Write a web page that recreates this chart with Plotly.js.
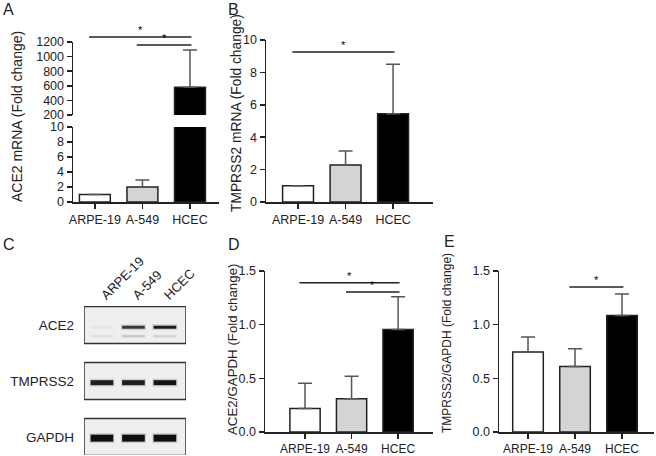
<!DOCTYPE html>
<html><head><meta charset="utf-8">
<script src="https://cdn.plot.ly/plotly-3.0.1.min.js"></script>
<style>html,body{margin:0;padding:0;background:#fff}#chart{width:656px;height:456px}</style>
</head><body><div id="chart"></div>
<script>
// ---------- data ----------
const groups = ['ARPE-19', 'A-549', 'HCEC'];
const barColors = ['#ffffff', '#d4d4d4', '#000000'];
const ace2Mrna = [1, 2, 580];
const ace2MrnaErr = [0, 0.95, 510];
const tmprss2Mrna = [1, 2.28, 5.45];
const tmprss2MrnaErr = [0, 0.87, 3.05];
const ace2Gapdh = [0.22, 0.31, 0.955];
const ace2GapdhErr = [0.235, 0.21, 0.305];
const tmprss2Gapdh = [0.745, 0.61, 1.085];
const tmprss2GapdhErr = [0.14, 0.165, 0.2];
const blotLanes = ['ARPE-19', 'A-549', 'HCEC'];
const blotRows = ['GAPDH', 'TMPRSS2', 'ACE2'];
const ace2Band = [0.03, 0.8, 0.95];
const ace2LowerBand = [0.06, 0.16, 0.12];
const tmprss2Band = [0.92, 0.92, 0.98];
const gapdhBand = [1, 1, 1];
// significance brackets: [from group, to group, height]
const sigA = [[0, 2, 1268], [1, 2, 1160]];
const sigB = [[0, 2, 9.26]];
const sigD = [[0, 2, 1.39], [1, 2, 1.305]];
const sigE = [[1, 2, 1.35]];

// ---------- layout helpers ----------
const W = 656, H = 456;
const px = v => v / W, py = v => 1 - v / H;
const FONT = 'Arial, "Liberation Sans", sans-serif';
const INK = '#222';

function xAx(d0, d1, r0, r1, anchor, size) {
  return {domain: [px(d0), px(d1)], range: [r0, r1], type: 'category', categoryarray: groups,
    anchor: anchor, showline: true, linecolor: INK, linewidth: 1.5, ticks: 'outside', ticklen: 5,
    tickwidth: 1.5, tickcolor: INK, showgrid: false, zeroline: false, fixedrange: true,
    tickfont: {family: FONT, size: size, color: INK}};
}
function yAx(top, bottom, r0, r1, anchor, tickvals, ticktext, size) {
  return {domain: [py(bottom), py(top)], range: [r0, r1], anchor: anchor, showline: true, linecolor: INK,
    linewidth: 1.5, ticks: 'outside', ticklen: 5, tickwidth: 1.5, tickcolor: INK, showgrid: false,
    zeroline: false, tickvals: tickvals, ticktext: ticktext, fixedrange: true,
    tickfont: {family: FONT, size: size, color: INK}};
}
function bars(vals, errs, xa, ya) {
  return {type: 'bar', x: groups, y: vals, xaxis: xa, yaxis: ya, width: 0.65,
    marker: {color: barColors, line: {color: INK, width: 1.5}},
    error_y: {type: 'data', array: errs, arrayminus: errs.map(() => 0), symmetric: false,
      color: '#555', thickness: 1.5, width: 7},
    hoverinfo: 'skip', showlegend: false};
}

const traces = [
  bars(ace2Mrna, ace2MrnaErr, 'x', 'y'),
  bars(ace2Mrna, ace2MrnaErr, 'x2', 'y2'),
  bars(tmprss2Mrna, tmprss2MrnaErr, 'x3', 'y3'),
  bars(ace2Gapdh, ace2GapdhErr, 'x4', 'y4'),
  bars(tmprss2Gapdh, tmprss2GapdhErr, 'x5', 'y5')
];

// western blot bands
function bandTraces(intens, row, offset, width) {
  const out = [];
  intens.forEach((a, i) => {
    const lane = i + 1;
    out.push({type: 'scatter', mode: 'lines', x: [lane - 0.4, lane + 0.4], y: [row + offset, row + offset],
      xaxis: 'x6', yaxis: 'y6', line: {color: `rgba(20,20,20,${(a * 0.14).toFixed(3)})`, width: width + 3},
      hoverinfo: 'skip', showlegend: false});
    out.push({type: 'scatter', mode: 'lines', x: [lane - 0.36, lane + 0.36], y: [row + offset, row + offset],
      xaxis: 'x6', yaxis: 'y6', line: {color: `rgba(15,15,15,${a.toFixed(3)})`, width: width},
      hoverinfo: 'skip', showlegend: false});
  });
  return out;
}
traces.push(...bandTraces(ace2Band, 2, -0.04, 3));
traces.push(...bandTraces(ace2LowerBand, 2, -0.2, 2));
traces.push(...bandTraces(tmprss2Band, 1, -0.03, 5));
traces.push(...bandTraces(gapdhBand, 0, -0.02, 7));

const shapes = [];
const annotations = [];

// blot frames
blotRows.forEach((r, i) => {
  shapes.push({type: 'rect', xref: 'x6', yref: 'y6', x0: 0.43, x1: 3.67, y0: i - 0.33, y1: i + 0.33,
    line: {color: '#333', width: 1.5}, fillcolor: '#efefef', layer: 'below'});
});

// significance brackets
function sig(list, xa, ya, toY) {
  list.forEach(([a, b, h]) => {
    const yy = toY ? toY(h) : h;
    const yref = toY ? 'paper' : ya;
    shapes.push({type: 'line', xref: xa, yref: yref, x0: a - 0.12, x1: b + 0.03, y0: yy, y1: yy,
      line: {color: INK, width: 1.5}});
    annotations.push({xref: xa, yref: yref, x: (a - 0.12 + b + 0.03) / 2, y: yy, text: '*',
      showarrow: false, yanchor: 'bottom', yshift: -1, font: {family: FONT, size: 11, color: '#000'}});
  });
}
// panel A top segment mapping (value -> paper)
const aTopDom = [py(115), py(42)], aTopRange = [200, 1200];
const aTopY = v => aTopDom[0] + (v - aTopRange[0]) / (aTopRange[1] - aTopRange[0]) * (aTopDom[1] - aTopDom[0]);
sig(sigA, 'x2', 'y2', aTopY);
sig(sigB, 'x3', 'y3', null);
sig(sigD, 'x4', 'y4', null);
sig(sigE, 'x5', 'y5', null);

// axis titles
function ytitle(text, x, y, size) {
  annotations.push({xref: 'paper', yref: 'paper', x: px(x), y: py(y), text: text, textangle: -90,
    showarrow: false, xanchor: 'center', yanchor: 'middle', font: {family: FONT, size: size, color: INK}});
}
ytitle('ACE2 mRNA (Fold change)', 17, 117, 14);
ytitle('TMPRSS2 mRNA (Fold change)', 237, 113, 13.8);
ytitle('ACE2/GAPDH (Fold change)', 232, 350, 13.3);
ytitle('TMPRSS2/GAPDH (Fold change)', 447, 343, 12);

// panel letters
[['A', 1, 10], ['B', 226, 10], ['C', 1, 244], ['D', 226, 244], ['E', 442, 241]].forEach(([t, x, y]) => {
  annotations.push({xref: 'paper', yref: 'paper', x: px(x), y: py(y), text: t, showarrow: false,
    xanchor: 'left', yanchor: 'middle', font: {family: FONT, size: 16, color: INK}});
});

const layout = {
  width: W, height: H, margin: {l: 0, r: 0, t: 0, b: 0}, paper_bgcolor: '#fff', plot_bgcolor: 'rgba(0,0,0,0)',
  showlegend: false, font: {family: FONT, color: INK},
  xaxis: xAx(73, 219, -0.46, 2.61, 'y', 12.5),
  yaxis: yAx(127, 202, 0, 10, 'x', [0, 2, 4, 6, 8, 10], null, 12.5),
  xaxis2: Object.assign(xAx(73, 219, -0.46, 2.61, 'y2', 12), {showline: false, ticks: '', showticklabels: false}),
  yaxis2: yAx(42, 115, 200, 1200, 'x2', [200, 400, 600, 800, 1000, 1200], null, 12.5),
  xaxis3: xAx(266, 433, -0.674, 2.84, 'y3', 12.5),
  yaxis3: yAx(40, 202, 0, 10, 'x3', [0, 2, 4, 6, 8, 10], null, 12.5),
  xaxis4: xAx(265, 433, -0.86, 2.75, 'y4', 12),
  yaxis4: yAx(271, 432, 0, 1.5, 'x4', [0, 0.5, 1, 1.5], ['0.0', '0.5', '1.0', '1.5'], 12.5),
  xaxis5: xAx(499, 654, -0.617, 2.68, 'y5', 12),
  yaxis5: yAx(271, 432, 0, 1.5, 'x5', [0, 0.5, 1, 1.5], ['0.0', '0.5', '1.0', '1.5'], 12.5),
  xaxis6: {domain: [px(84), px(186)], range: [0.43, 3.67], anchor: 'y6', side: 'top', tickvals: [1, 2, 3],
    ticktext: blotLanes, tickangle: -45, showline: false, ticks: '', showgrid: false, zeroline: false,
    fixedrange: true, tickfont: {family: FONT, size: 13, color: INK}},
  yaxis6: {domain: [py(455), py(306)], range: [-0.321, 2.339], anchor: 'x6', tickvals: [0, 1, 2],
    ticktext: blotRows, showline: false, ticks: '', showgrid: false, zeroline: false, fixedrange: true,
    ticklabelstandoff: 9, tickfont: {family: FONT, size: 13.5, color: INK}},
  shapes: shapes, annotations: annotations
};
Plotly.newPlot('chart', traces, layout, {staticPlot: true, displayModeBar: false});
</script></body></html>
